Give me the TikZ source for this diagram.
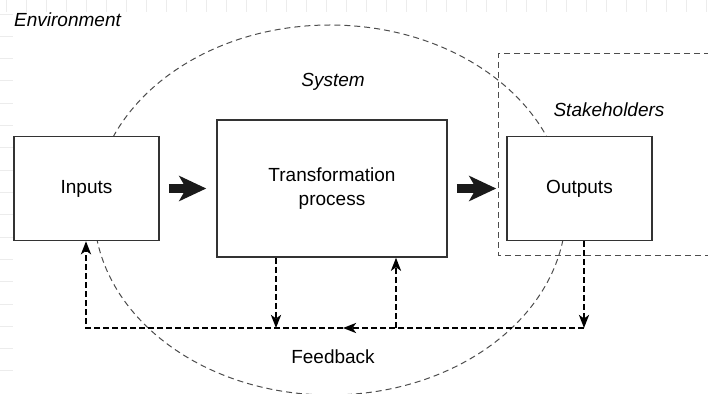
\documentclass[tikz,border=0pt]{standalone}
\usepackage{fontspec}
\setmainfont{Liberation Sans}
\usepackage{tikz}
\usetikzlibrary{arrows.meta,positioning}
\definecolor{boxline}{HTML}{333333}
\definecolor{arrowfill}{HTML}{1A1A1A}
\definecolor{envline}{HTML}{4D4D4D}
\definecolor{gridgray}{HTML}{ECECEC}
\tikzset{
    block/.style={draw=boxline, line width=1.5pt, fill=white, inner sep=0pt, align=center, font=\fontsize{19}{24}\selectfont},
    tag/.style={inner sep=0pt, font=\fontsize{19}{24}\selectfont\itshape},
    plaintag/.style={inner sep=0pt, font=\fontsize{19}{24}\selectfont},
    envdash/.style={draw=envline, line width=1pt, dash pattern=on 6pt off 4pt},
    flow/.style={draw=arrowfill, line width=8.5pt, -{Stealth[length=27pt,width=25pt,inset=7pt]}, shorten <=9pt, shorten >=10pt},
    fbline/.style={draw=black, line width=2.6pt, dash pattern=on 6pt off 3pt, line join=miter},
    fbarrow/.style={fbline, -{Stealth[length=13pt,width=10pt,inset=3.5pt]}},
    gridtick/.style={draw=gridgray, line width=0.8pt}
}

\begin{document}
\begin{tikzpicture}[x=1pt, y=-1pt]
    \useasboundingbox (0,0) rectangle (708,393);
    \clip (0,0) rectangle (708,393);
    \foreach \gx in {6,26,...,706}
        \draw[gridtick] (\gx,0) -- (\gx,12);
    \foreach \gy in {14,36.3,...,393}
        \draw[gridtick] (0,\gy) -- (13,\gy);

    \draw[envdash] (330,210) ellipse [x radius=236, y radius=185];
    \draw[envdash] (720,54) -- (498,54) -- (498,255) -- (720,255);

    \node[block, minimum width=230, minimum height=137] (trans) at (332,188.5) {Transformation\\process};
    \node[block, minimum width=145, minimum height=104, left=56.5pt of trans] (inputs) {Inputs};
    \node[block, minimum width=145, minimum height=104, right=58.5pt of trans] (outputs) {Outputs};

    \node[tag, anchor=west] (envlabel) at (14,20) {Environment};
    \node[tag] (syslabel) at (333,82) {System};
    \node[tag] (stakelabel) at (609,110) {Stakeholders};
    \node[plaintag] (fblabel) at (333,357) {Feedback};

    \draw[flow] (inputs) -- (trans);
    \draw[flow] (trans) -- (outputs);

    \coordinate (fbL) at (86,328);
    \coordinate (fbR) at (584,328);
    \coordinate (fbM) at (343,328);
    \coordinate (fbDown) at (276,328);
    \coordinate (fbUp) at (396,328);
    \draw[fbarrow] (outputs.south -| fbR) -- (fbR);
    \draw[fbarrow] (fbR) -- (fbM);
    \draw[fbarrow] (fbM) -- (fbL) -- (inputs.south -| fbL);
    \draw[fbarrow] (trans.south -| fbDown) -- (fbDown);
    \draw[fbarrow] (fbUp) -- (trans.south -| fbUp);
\end{tikzpicture}
\end{document}
